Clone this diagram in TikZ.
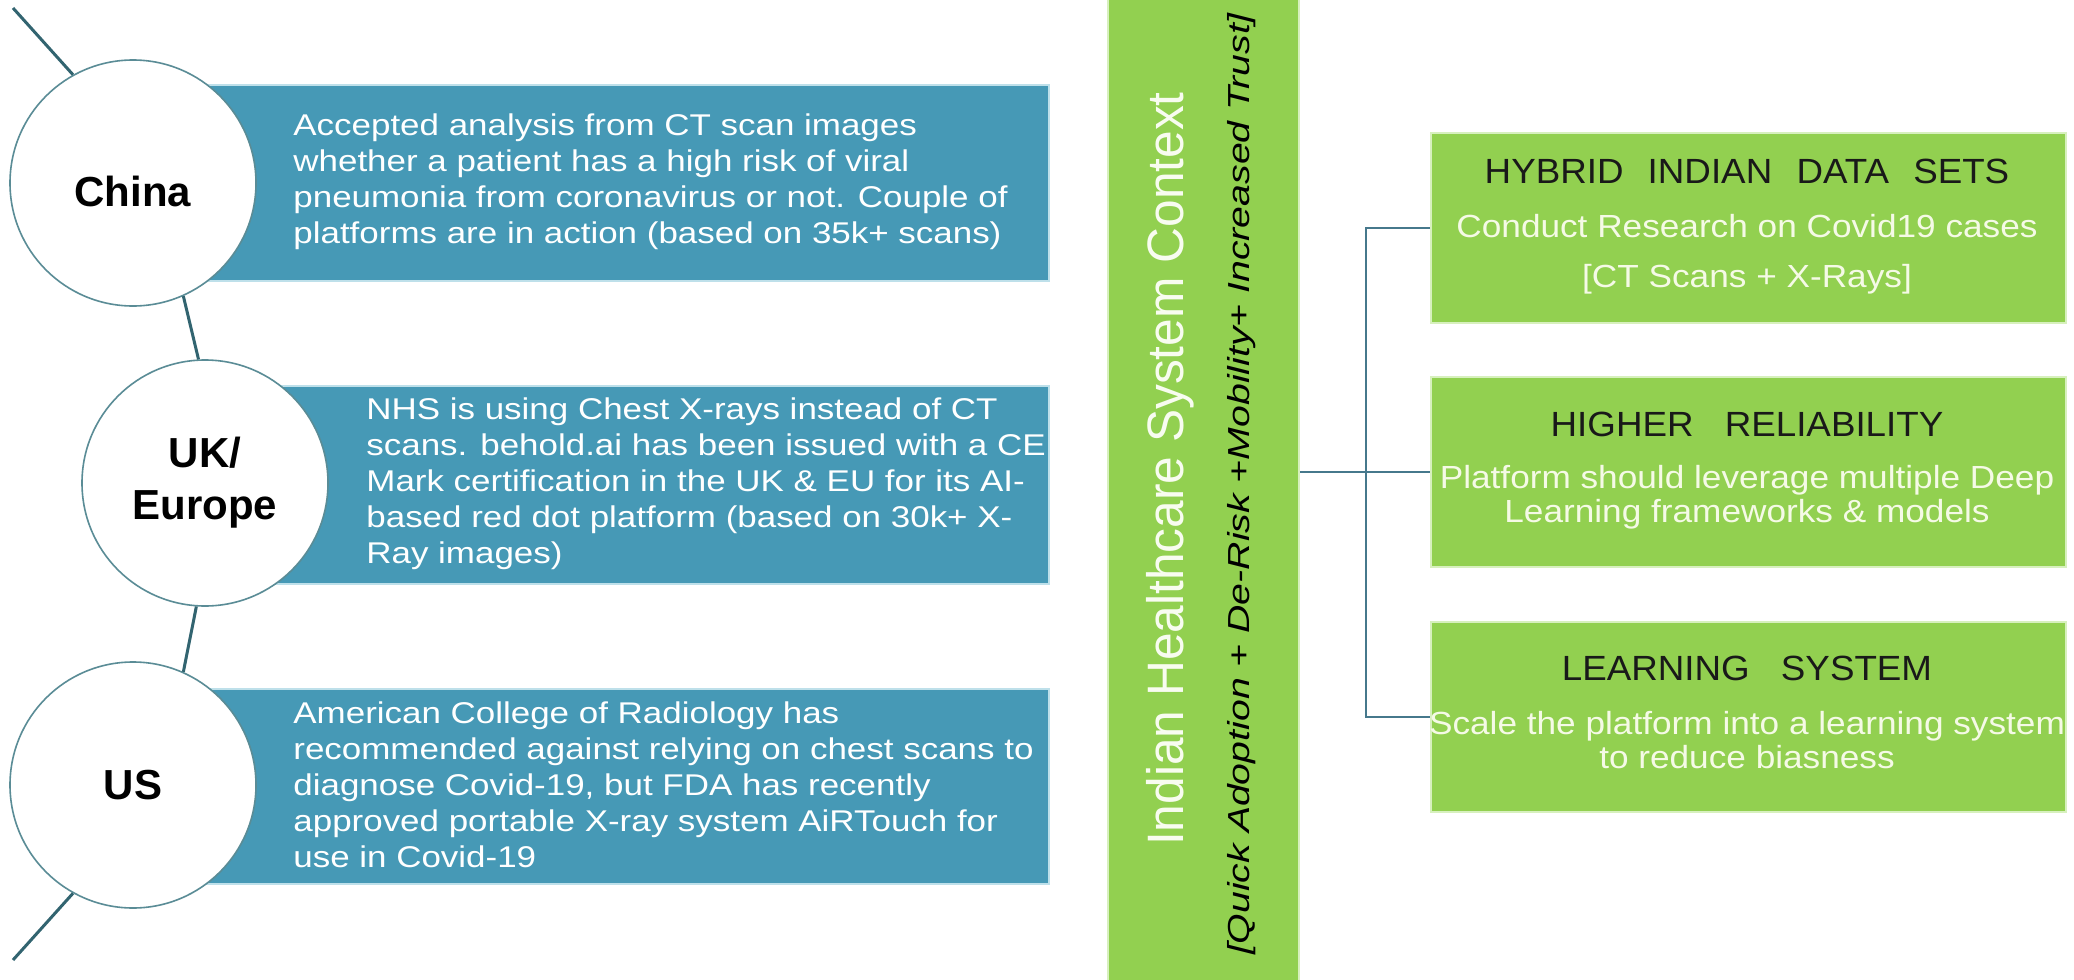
\documentclass[tikz,border=0pt]{standalone}
\usepackage{fontspec}
\setmainfont{Liberation Sans}
\newfontfamily\tealfont[FakeStretch=1.165]{Liberation Sans}
\newfontfamily\titlefont[FakeStretch=0.97]{Liberation Sans}
\newfontfamily\slogfont[FakeStretch=1.29]{Liberation Sans}
\newfontfamily\subfont[FakeStretch=1.1]{Liberation Sans}
\newfontfamily\headfont[FakeStretch=1.05]{Liberation Sans}
\usetikzlibrary{calc}
\definecolor{tealfill}{RGB}{70,153,182}
\definecolor{tealedge}{RGB}{190,224,234}
\definecolor{circedge}{RGB}{90,140,150}
\definecolor{linkc}{RGB}{50,100,112}
\definecolor{greenfill}{RGB}{146,208,80}
\definecolor{greenedge}{RGB}{215,240,190}
\definecolor{branchc}{RGB}{70,120,140}
\definecolor{subc}{RGB}{245,250,230}
\definecolor{titlec}{RGB}{248,252,240}
\begin{document}
\begin{tikzpicture}[x=0.5pt,y=-0.5pt,
  tealbox/.style={draw=tealedge, line width=1pt, fill=tealfill, inner sep=0pt, anchor=north west},
  circ/.style={circle, draw=circedge, line width=0.8pt, fill=white, minimum size=123pt, inner sep=0pt,
    font=\bfseries\fontsize{21}{26}\selectfont, align=center},
  tealtext/.style={anchor=west, align=left, text=white, font=\tealfont\fontsize{15}{18}\selectfont, inner sep=0pt},
  link/.style={draw=linkc, line width=1.5pt},
  greenbox/.style={draw=greenedge, line width=1pt, fill=greenfill, inner sep=0pt, anchor=north west,
    minimum width=317.5pt, minimum height=95pt},
  head/.style={font=\headfont\fontsize{17.5}{20}\selectfont, text=black!90, inner sep=0pt},
  sub/.style={font=\subfont\fontsize{16}{17}\selectfont, text=subc, inner sep=0pt, align=center},
  branch/.style={draw=branchc, line width=1pt},
]
\useasboundingbox (0,0) rectangle (2074,980);
\fill[white] (0,0) rectangle (2074,980);

% teal boxes
\node[tealbox, minimum width=457.5pt, minimum height=98pt] (tb1) at (133,84) {};
\node[tealbox, minimum width=421.5pt, minimum height=99pt] (tb2) at (205,385) {};
\node[tealbox, minimum width=457.5pt, minimum height=97.5pt] (tb3) at (133,688) {};

\node[tealtext] (tx1) at (293,182) {Accepted analysis from CT scan images\\
whether a patient has a high risk of viral\\
pneumonia from coronavirus or not. Couple of\\
platforms are in action (based on 35k+ scans)};
\node[tealtext] (tx2) at (366,484) {NHS is using Chest X-rays instead of CT\\
scans. behold.ai has been issued with a CE\\
Mark certification in the UK \& EU for its AI-\\
based red dot platform (based on 30k+ X-\\
Ray images)};
\node[tealtext] (tx3) at (293,785) {American College of Radiology has\\
recommended against relying on chest scans to\\
diagnose Covid-19, but FDA has recently\\
approved portable X-ray system AiRTouch for\\
use in Covid-19};

% circles
\node[circ, text height=23pt, text depth=0pt] (c1) at (133,183) {China};
\node[circ] (c2) at (205,483) {UK/\\Europe};
\node[circ] (c3) at (133,785) {US};

% links
\coordinate (ltop) at (13,8);
\coordinate (lbot) at (13,960);
\draw[link] (ltop) -- (c1.119.5);
\draw[link] (c1.-66) -- (c2.93.7);
\draw[link] (c2.-94) -- (c3.66.5);
\draw[link] (c3.-119.5) -- (lbot);

% green bar
\node[draw=greenedge, line width=1pt, fill=greenfill, minimum width=95.5pt, minimum height=500pt, inner sep=0pt] (bar) at (1203.5,490) {};
\node[rotate=90, font=\titlefont\fontsize{25.6}{30}\selectfont, text=titlec, inner sep=0pt] (title) at (1170,469) {Indian Healthcare System Context};
\node[rotate=90, font=\slogfont\itshape\fontsize{15.2}{18}\selectfont, text=black, inner sep=0pt] (slogan) at (1242,484) {[Quick Adoption + De-Risk +Mobility+ Increased Trust]};

% right boxes
\node[greenbox] (gb1) at (1430,132) {};
\node[greenbox] (gb2) at (1430,376) {};
\node[greenbox] (gb3) at (1430,621) {};

\node[head] (h1) at (1747,171) {HYBRID\hspace{0.4em} INDIAN\hspace{0.4em} DATA\hspace{0.4em} SETS};
\node[sub] (s1a) at (1747,226) {Conduct Research on Covid19 cases};
\node[sub] (s1b) at (1747,279) {[CT Scans + X-Rays]};
\node[head] (h2) at (1747,424) {HIGHER\hspace{0.6em} RELIABILITY};
\node[sub] (s2) at (1747,497) {Platform should leverage multiple Deep\\Learning frameworks \& models};
\node[head] (h3) at (1747,668) {LEARNING\hspace{0.6em} SYSTEM};
\node[sub] (s3) at (1747,740) {Scale the platform into a learning system\\to reduce biasness};

% connectors
\coordinate (jn) at (1366,472);
\draw[branch] (bar.east |- gb2.west) -- (gb2.west);
\draw[branch] (gb1.west) -- (gb1.west -| jn) -- (gb3.west -| jn) -- (gb3.west);
\end{tikzpicture}
\end{document}
